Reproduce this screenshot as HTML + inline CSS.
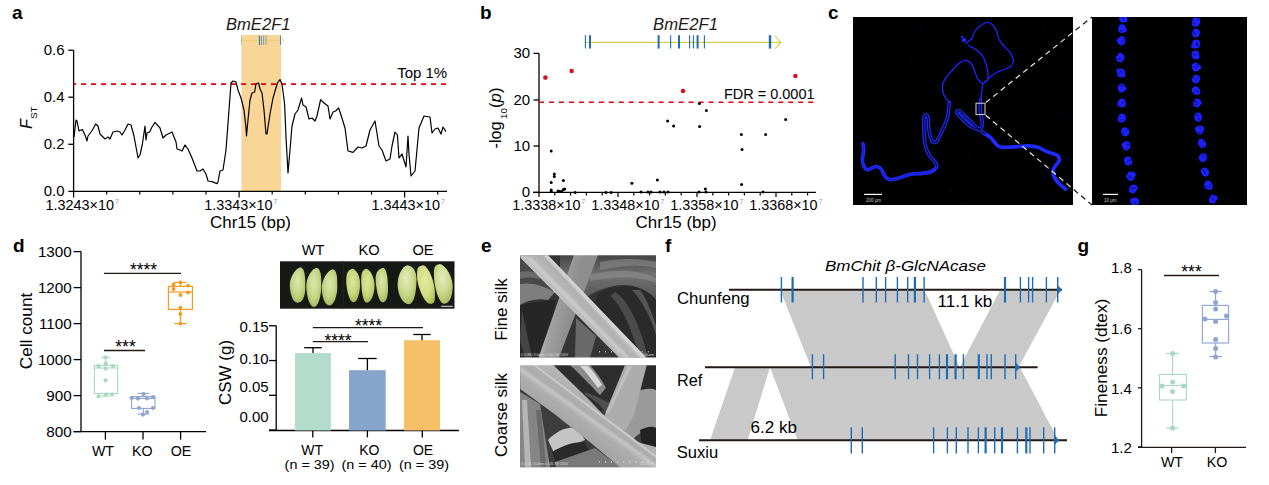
<!DOCTYPE html>
<html><head><meta charset="utf-8"><style>
html,body{margin:0;padding:0;background:#fff;}
svg{display:block;}
text{font-family:"Liberation Sans", sans-serif;}
</style></head><body>
<svg width="1269" height="485" viewBox="0 0 1269 485">
<rect width="1269" height="485" fill="#fff"/>
<text x="12" y="19" font-size="19" text-anchor="start" font-weight="bold">a</text>
<rect x="241.4" y="35" width="39.6" height="156.4" fill="#f9d597"/>
<line x1="241.4" y1="40.4" x2="281.5" y2="40.4" stroke="#e2d060" stroke-width="0.7"/>
<polyline points="282,37.5 283.5,40.4 282,43.3" fill="none" stroke="#d8cc40" stroke-width="0.7"/>
<line x1="241.5" y1="35.5" x2="241.5" y2="45" stroke="#a0b8b8" stroke-width="0.8"/>
<line x1="259.4" y1="35.5" x2="259.4" y2="45" stroke="#2a78b8" stroke-width="1.0"/>
<line x1="261.4" y1="35.5" x2="261.4" y2="45" stroke="#4a88b8" stroke-width="0.8"/>
<line x1="263.6" y1="35.5" x2="263.6" y2="45" stroke="#5a90b8" stroke-width="0.8"/>
<line x1="266" y1="35.5" x2="266" y2="45" stroke="#aab8a8" stroke-width="1.6"/>
<line x1="280.5" y1="35.5" x2="280.5" y2="45" stroke="#4a88b8" stroke-width="1"/>
<text x="226" y="30" font-size="16.7" text-anchor="start" font-style="italic" fill="#231815" textLength="64.5" lengthAdjust="spacingAndGlyphs">BmE2F1</text>
<line x1="73.6" y1="50.2" x2="73.6" y2="191.4" stroke="#000" stroke-width="1.3"/>
<line x1="73" y1="191.4" x2="447" y2="191.4" stroke="#000" stroke-width="1.3"/>
<line x1="68.3" y1="50.2" x2="73.6" y2="50.2" stroke="#000" stroke-width="1.3"/>
<text x="64.6" y="55.2" font-size="15" text-anchor="end">0.6</text>
<line x1="68.3" y1="97.2" x2="73.6" y2="97.2" stroke="#000" stroke-width="1.3"/>
<text x="64.6" y="102.2" font-size="15" text-anchor="end">0.4</text>
<line x1="68.3" y1="144.3" x2="73.6" y2="144.3" stroke="#000" stroke-width="1.3"/>
<text x="64.6" y="149.3" font-size="15" text-anchor="end">0.2</text>
<line x1="68.3" y1="191.4" x2="73.6" y2="191.4" stroke="#000" stroke-width="1.3"/>
<text x="64.6" y="196.4" font-size="15" text-anchor="end">0.0</text>
<line x1="73.6" y1="191.4" x2="73.6" y2="197.4" stroke="#000" stroke-width="1.2"/>
<line x1="106.69999999999999" y1="191.4" x2="106.69999999999999" y2="194.6" stroke="#000" stroke-width="1.2"/>
<line x1="139.8" y1="191.4" x2="139.8" y2="194.6" stroke="#000" stroke-width="1.2"/>
<line x1="172.9" y1="191.4" x2="172.9" y2="194.6" stroke="#000" stroke-width="1.2"/>
<line x1="206.0" y1="191.4" x2="206.0" y2="194.6" stroke="#000" stroke-width="1.2"/>
<line x1="239.1" y1="191.4" x2="239.1" y2="197.4" stroke="#000" stroke-width="1.2"/>
<line x1="272.20000000000005" y1="191.4" x2="272.20000000000005" y2="194.6" stroke="#000" stroke-width="1.2"/>
<line x1="305.3" y1="191.4" x2="305.3" y2="194.6" stroke="#000" stroke-width="1.2"/>
<line x1="338.4" y1="191.4" x2="338.4" y2="194.6" stroke="#000" stroke-width="1.2"/>
<line x1="371.5" y1="191.4" x2="371.5" y2="194.6" stroke="#000" stroke-width="1.2"/>
<line x1="404.6" y1="191.4" x2="404.6" y2="197.4" stroke="#000" stroke-width="1.2"/>
<line x1="437.70000000000005" y1="191.4" x2="437.70000000000005" y2="194.6" stroke="#000" stroke-width="1.2"/>
<text x="45.6" y="210" font-size="15" textLength="68.4" lengthAdjust="spacingAndGlyphs">1.3243×10</text>
<text x="115.0" y="203.5" font-size="7" fill="#999">7</text>
<text x="204.2" y="210" font-size="15" textLength="68.4" lengthAdjust="spacingAndGlyphs">1.3343×10</text>
<text x="273.6" y="203.5" font-size="7" fill="#999">7</text>
<text x="371.59999999999997" y="210" font-size="15" textLength="68.4" lengthAdjust="spacingAndGlyphs">1.3443×10</text>
<text x="441.0" y="203.5" font-size="7" fill="#999">7</text>
<text x="210" y="227.6" font-size="17.2" text-anchor="start" textLength="81" lengthAdjust="spacingAndGlyphs">Chr15 (bp)</text>
<g transform="translate(31.6,129) rotate(-90)"><text x="0" y="0" font-size="16.5" font-style="italic">F</text><text x="9.9" y="5.6" font-size="9.9">ST</text></g>
<line x1="73.6" y1="84.1" x2="448.6" y2="84.1" stroke="#e60012" stroke-width="1.6" stroke-dasharray="5 5" stroke-dashoffset="2.6"/>
<text x="397.2" y="78" font-size="14.8" text-anchor="start" textLength="50" lengthAdjust="spacingAndGlyphs">Top 1%</text>
<polyline fill="none" stroke="#000" stroke-width="1.2" stroke-linejoin="round" points="74,137 76,120 77,121 79,131 81,130 82.4,129.6 85,135 87,141 88,136 91,132 93,129 95.6,124 98,126 100,134 102,136 105,139 108,137 110,139 113,132 117,131 120,132 122,135 125,130 128,124 131,125 134,136 138,158 140,155 142.4,144 145,126 146,140 147,133 149.6,132 152,127 155,122.4 160,128 163,138 166,135 172,132 176,142 177,149 180,150 182,151 185,145 188,149 192,158 197,171 200,171 203,169 206,174 208,181 212,181.6 217,183.6 218,182 220,171 223,170 226,150 229,110 231,83 233,81 236,82 238,90 241,98 244,110 246,128 246.5,136 248,120 250,100 252,93 254.6,92 256,84 258.6,83 260,89 262,93 264,110 266,134 267,134 270,114 273,98 277.4,83 280,79.6 282,84 284.6,104 286,137 288,173 290,150 292,126 295,114 298,110 301.6,98 303,105 306,107 309,119 312,118 315,121 317,116 320.6,99.6 324,103 328,106 330,119 333,112 335.6,111 338.6,108 341,115 345,128 348,151 353,152.4 358,147 362,148 366,146 370,130 375,121 379,146 382,150 386,161 390,159 392,146 395,132 397.4,135 399,158 402,154 406,167 408,136 409,154 411,176 415,171 419,128 424,116 430,117 432,133 435,129 438,128 441,134 443,127 446,131.6"/>
<text x="480" y="19" font-size="19" text-anchor="start" font-weight="bold">b</text>
<text x="653" y="30" font-size="16.7" text-anchor="start" font-style="italic" fill="#231815" textLength="65" lengthAdjust="spacingAndGlyphs">BmE2F1</text>
<line x1="585" y1="42.4" x2="780.5" y2="42.4" stroke="#dccb4f" stroke-width="1.2"/>
<polyline points="775,36.2 781,42.4 775,48.6" fill="none" stroke="#dccb4f" stroke-width="1.1"/>
<line x1="585.4" y1="35.2" x2="585.4" y2="48.6" stroke="#1e6cb4" stroke-width="1.1"/>
<line x1="590" y1="35.2" x2="590" y2="48.6" stroke="#1e6cb4" stroke-width="2"/>
<line x1="658.6" y1="35.2" x2="658.6" y2="48.6" stroke="#1e6cb4" stroke-width="2"/>
<line x1="670.6" y1="35.2" x2="670.6" y2="48.6" stroke="#1e6cb4" stroke-width="1.1"/>
<line x1="679" y1="35.2" x2="679" y2="48.6" stroke="#1e6cb4" stroke-width="2"/>
<line x1="689.6" y1="35.2" x2="689.6" y2="48.6" stroke="#1e6cb4" stroke-width="1.1"/>
<line x1="693.4" y1="35.2" x2="693.4" y2="48.6" stroke="#1e6cb4" stroke-width="1.1"/>
<line x1="697.6" y1="35.2" x2="697.6" y2="48.6" stroke="#1e6cb4" stroke-width="2"/>
<line x1="704.4" y1="35.2" x2="704.4" y2="48.6" stroke="#1e6cb4" stroke-width="1.1"/>
<line x1="770" y1="35.2" x2="770" y2="48.6" stroke="#1e6cb4" stroke-width="2.4"/>
<line x1="539" y1="53.4" x2="539" y2="192.4" stroke="#000" stroke-width="1.3"/>
<line x1="533" y1="192.4" x2="816" y2="192.4" stroke="#000" stroke-width="1.3"/>
<line x1="533.5" y1="53.4" x2="539" y2="53.4" stroke="#000" stroke-width="1.3"/>
<text x="530.2" y="58.4" font-size="15" text-anchor="end">30</text>
<line x1="533.5" y1="100" x2="539" y2="100" stroke="#000" stroke-width="1.3"/>
<text x="530.2" y="105.0" font-size="15" text-anchor="end">20</text>
<line x1="533.5" y1="146" x2="539" y2="146" stroke="#000" stroke-width="1.3"/>
<text x="530.2" y="151.0" font-size="15" text-anchor="end">10</text>
<line x1="533.5" y1="192.4" x2="539" y2="192.4" stroke="#000" stroke-width="1.3"/>
<text x="530.2" y="197.4" font-size="15" text-anchor="end">0</text>
<line x1="539.0" y1="192.4" x2="539.0" y2="196.9" stroke="#000" stroke-width="1.2"/>
<line x1="554.8" y1="192.4" x2="554.8" y2="195.4" stroke="#000" stroke-width="1.2"/>
<line x1="570.6" y1="192.4" x2="570.6" y2="195.4" stroke="#000" stroke-width="1.2"/>
<line x1="586.4" y1="192.4" x2="586.4" y2="195.4" stroke="#000" stroke-width="1.2"/>
<line x1="602.2" y1="192.4" x2="602.2" y2="195.4" stroke="#000" stroke-width="1.2"/>
<line x1="618.0" y1="192.4" x2="618.0" y2="196.9" stroke="#000" stroke-width="1.2"/>
<line x1="633.8" y1="192.4" x2="633.8" y2="195.4" stroke="#000" stroke-width="1.2"/>
<line x1="649.6" y1="192.4" x2="649.6" y2="195.4" stroke="#000" stroke-width="1.2"/>
<line x1="665.4" y1="192.4" x2="665.4" y2="195.4" stroke="#000" stroke-width="1.2"/>
<line x1="681.2" y1="192.4" x2="681.2" y2="195.4" stroke="#000" stroke-width="1.2"/>
<line x1="697.0" y1="192.4" x2="697.0" y2="196.9" stroke="#000" stroke-width="1.2"/>
<line x1="712.8" y1="192.4" x2="712.8" y2="195.4" stroke="#000" stroke-width="1.2"/>
<line x1="728.6" y1="192.4" x2="728.6" y2="195.4" stroke="#000" stroke-width="1.2"/>
<line x1="744.4" y1="192.4" x2="744.4" y2="195.4" stroke="#000" stroke-width="1.2"/>
<line x1="760.2" y1="192.4" x2="760.2" y2="195.4" stroke="#000" stroke-width="1.2"/>
<line x1="776.0" y1="192.4" x2="776.0" y2="196.9" stroke="#000" stroke-width="1.2"/>
<line x1="791.8" y1="192.4" x2="791.8" y2="195.4" stroke="#000" stroke-width="1.2"/>
<line x1="807.6" y1="192.4" x2="807.6" y2="195.4" stroke="#000" stroke-width="1.2"/>
<text x="512.2" y="210" font-size="15" textLength="68.4" lengthAdjust="spacingAndGlyphs">1.3338×10</text>
<text x="581.6" y="203.5" font-size="7" fill="#999">7</text>
<text x="591.2" y="210" font-size="15" textLength="68.4" lengthAdjust="spacingAndGlyphs">1.3348×10</text>
<text x="660.6" y="203.5" font-size="7" fill="#999">7</text>
<text x="670.2" y="210" font-size="15" textLength="68.4" lengthAdjust="spacingAndGlyphs">1.3358×10</text>
<text x="739.6" y="203.5" font-size="7" fill="#999">7</text>
<text x="749.2" y="210" font-size="15" textLength="68.4" lengthAdjust="spacingAndGlyphs">1.3368×10</text>
<text x="818.6" y="203.5" font-size="7" fill="#999">7</text>
<text x="635.6" y="227.6" font-size="17.2" text-anchor="start" textLength="81" lengthAdjust="spacingAndGlyphs">Chr15 (bp)</text>
<g transform="translate(501.4,148.5) rotate(-90)"><text x="0" y="0" font-size="16.3">-log</text><text x="29.6" y="5.6" font-size="9.8">10</text><text x="40.6" y="0" font-size="16.3">(</text><text x="46.2" y="0" font-size="16.3" font-style="italic">p</text><text x="55.6" y="0" font-size="16.3">)</text></g>
<line x1="539" y1="102.3" x2="815" y2="102.3" stroke="#e60012" stroke-width="1.6" stroke-dasharray="5 4.97"/>
<text x="724" y="99" font-size="14.8" text-anchor="start" textLength="90.5" lengthAdjust="spacingAndGlyphs">FDR = 0.0001</text>
<circle cx="551.2" cy="150.9" r="1.5" fill="#000"/>
<circle cx="554.3" cy="174.1" r="1.5" fill="#000"/>
<circle cx="554.3" cy="176.4" r="1.5" fill="#000"/>
<circle cx="551.2" cy="182.4" r="1.5" fill="#000"/>
<circle cx="563.4" cy="180.6" r="1.5" fill="#000"/>
<circle cx="551.2" cy="190.1" r="1.5" fill="#000"/>
<circle cx="551.2" cy="191.5" r="1.5" fill="#000"/>
<circle cx="558.1" cy="191" r="1.5" fill="#000"/>
<circle cx="559.8" cy="191.5" r="1.5" fill="#000"/>
<circle cx="561.7" cy="191.5" r="1.5" fill="#000"/>
<circle cx="563.4" cy="189.5" r="1.5" fill="#000"/>
<circle cx="564.7" cy="189" r="1.5" fill="#000"/>
<circle cx="575.1" cy="192.4" r="1.5" fill="#000"/>
<circle cx="606" cy="192.4" r="1.5" fill="#000"/>
<circle cx="611.2" cy="192.4" r="1.5" fill="#000"/>
<circle cx="631.9" cy="183.2" r="1.5" fill="#000"/>
<circle cx="641" cy="192" r="1.5" fill="#000"/>
<circle cx="648" cy="192" r="1.5" fill="#000"/>
<circle cx="651" cy="192" r="1.5" fill="#000"/>
<circle cx="657.4" cy="180" r="1.5" fill="#000"/>
<circle cx="660" cy="192" r="1.5" fill="#000"/>
<circle cx="664" cy="192" r="1.5" fill="#000"/>
<circle cx="668" cy="192" r="1.5" fill="#000"/>
<circle cx="667.6" cy="121" r="1.5" fill="#000"/>
<circle cx="673.6" cy="126" r="1.5" fill="#000"/>
<circle cx="699.4" cy="103.4" r="1.5" fill="#000"/>
<circle cx="706.4" cy="110.6" r="1.5" fill="#000"/>
<circle cx="699.6" cy="126.4" r="1.5" fill="#000"/>
<circle cx="699" cy="192" r="1.5" fill="#000"/>
<circle cx="705.4" cy="189" r="1.5" fill="#000"/>
<circle cx="706" cy="192" r="1.5" fill="#000"/>
<circle cx="741.4" cy="134.4" r="1.5" fill="#000"/>
<circle cx="742" cy="149.4" r="1.5" fill="#000"/>
<circle cx="741.6" cy="184.6" r="1.5" fill="#000"/>
<circle cx="765.6" cy="134.4" r="1.5" fill="#000"/>
<circle cx="763" cy="192" r="1.5" fill="#000"/>
<circle cx="785.6" cy="119.6" r="1.5" fill="#000"/>
<circle cx="545.4" cy="77.6" r="2.3" fill="#d7131d"/>
<circle cx="571.6" cy="71" r="2.3" fill="#d7131d"/>
<circle cx="683" cy="91" r="2.3" fill="#d7131d"/>
<circle cx="795.4" cy="76" r="2.3" fill="#d7131d"/>
<text x="828" y="19" font-size="19" text-anchor="start" font-weight="bold">c</text>
<rect x="853" y="17" width="220" height="188" fill="#000"/>
<rect x="1092" y="17" width="155" height="188" fill="#000"/>
<rect x="906.4" y="119.1" width="0.8" height="0.8" fill="#1010a0"/>
<rect x="934.9" y="130.1" width="0.8" height="0.8" fill="#1010a0"/>
<rect x="990.2" y="31.1" width="0.8" height="0.8" fill="#1010a0"/>
<rect x="857.8" y="173.1" width="0.8" height="0.8" fill="#1010a0"/>
<rect x="911.0" y="62.1" width="0.8" height="0.8" fill="#1010a0"/>
<rect x="1070.1" y="105.5" width="0.8" height="0.8" fill="#1010a0"/>
<rect x="1035.7" y="106.6" width="0.8" height="0.8" fill="#1010a0"/>
<rect x="993.0" y="46.7" width="0.8" height="0.8" fill="#1010a0"/>
<rect x="992.1" y="178.7" width="0.8" height="0.8" fill="#1010a0"/>
<rect x="968.0" y="155.4" width="0.8" height="0.8" fill="#1010a0"/>
<rect x="1000.0" y="30.8" width="0.8" height="0.8" fill="#1010a0"/>
<rect x="1018.8" y="127.8" width="0.8" height="0.8" fill="#1010a0"/>
<rect x="920.1" y="24.7" width="0.8" height="0.8" fill="#1010a0"/>
<rect x="1042.0" y="106.0" width="0.8" height="0.8" fill="#1010a0"/>
<rect x="1010.3" y="180.7" width="0.8" height="0.8" fill="#1010a0"/>
<rect x="1009.3" y="188.5" width="0.8" height="0.8" fill="#1010a0"/>
<rect x="940.3" y="166.4" width="0.8" height="0.8" fill="#1010a0"/>
<rect x="951.0" y="191.1" width="0.8" height="0.8" fill="#1010a0"/>
<rect x="1044.8" y="36.9" width="0.8" height="0.8" fill="#1010a0"/>
<rect x="884.4" y="58.9" width="0.8" height="0.8" fill="#1010a0"/>
<rect x="1063.5" y="99.3" width="0.8" height="0.8" fill="#1010a0"/>
<rect x="990.4" y="74.4" width="0.8" height="0.8" fill="#1010a0"/>
<rect x="964.6" y="90.0" width="0.8" height="0.8" fill="#1010a0"/>
<rect x="930.8" y="126.7" width="0.8" height="0.8" fill="#1010a0"/>
<rect x="981.2" y="185.4" width="0.8" height="0.8" fill="#1010a0"/>
<rect x="1002.3" y="189.9" width="0.8" height="0.8" fill="#1010a0"/>
<rect x="1040.0" y="201.3" width="0.8" height="0.8" fill="#1010a0"/>
<rect x="1000.0" y="49.0" width="0.8" height="0.8" fill="#1010a0"/>
<rect x="1040.9" y="196.5" width="0.8" height="0.8" fill="#1010a0"/>
<rect x="1050.4" y="123.7" width="0.8" height="0.8" fill="#1010a0"/>
<rect x="1009.2" y="57.8" width="0.8" height="0.8" fill="#1010a0"/>
<rect x="1034.6" y="124.5" width="0.8" height="0.8" fill="#1010a0"/>
<rect x="916.6" y="30.7" width="0.8" height="0.8" fill="#1010a0"/>
<rect x="1039.5" y="201.1" width="0.8" height="0.8" fill="#1010a0"/>
<rect x="874.1" y="166.3" width="0.8" height="0.8" fill="#1010a0"/>
<rect x="943.7" y="46.7" width="0.8" height="0.8" fill="#1010a0"/>
<rect x="918.5" y="160.5" width="0.8" height="0.8" fill="#1010a0"/>
<rect x="1043.5" y="27.1" width="0.8" height="0.8" fill="#1010a0"/>
<rect x="987.7" y="27.3" width="0.8" height="0.8" fill="#1010a0"/>
<rect x="1010.2" y="79.9" width="0.8" height="0.8" fill="#1010a0"/>
<rect x="1045.3" y="199.4" width="0.8" height="0.8" fill="#1010a0"/>
<rect x="964.2" y="202.7" width="0.8" height="0.8" fill="#1010a0"/>
<rect x="921.9" y="33.2" width="0.8" height="0.8" fill="#1010a0"/>
<rect x="984.5" y="24.8" width="0.8" height="0.8" fill="#1010a0"/>
<rect x="897.6" y="94.1" width="0.8" height="0.8" fill="#1010a0"/>
<rect x="986.9" y="47.7" width="0.8" height="0.8" fill="#1010a0"/>
<rect x="864.2" y="178.7" width="0.8" height="0.8" fill="#1010a0"/>
<rect x="922.8" y="195.4" width="0.8" height="0.8" fill="#1010a0"/>
<rect x="1048.7" y="88.5" width="0.8" height="0.8" fill="#1010a0"/>
<rect x="954.4" y="114.7" width="0.8" height="0.8" fill="#1010a0"/>
<rect x="994.1" y="128.6" width="0.8" height="0.8" fill="#1010a0"/>
<rect x="975.8" y="133.1" width="0.8" height="0.8" fill="#1010a0"/>
<rect x="1058.2" y="112.3" width="0.8" height="0.8" fill="#1010a0"/>
<rect x="948.1" y="151.5" width="0.8" height="0.8" fill="#1010a0"/>
<rect x="906.3" y="74.4" width="0.8" height="0.8" fill="#1010a0"/>
<rect x="1066.2" y="114.9" width="0.8" height="0.8" fill="#1010a0"/>
<rect x="973.5" y="21.1" width="0.8" height="0.8" fill="#1010a0"/>
<rect x="944.7" y="125.7" width="0.8" height="0.8" fill="#1010a0"/>
<rect x="859.3" y="132.3" width="0.8" height="0.8" fill="#1010a0"/>
<rect x="991.6" y="30.1" width="0.8" height="0.8" fill="#1010a0"/>
<path d="M965.5,43.9 C966.6,42.9 970.5,40.1 972,38 C973.5,35.9 973.4,33.4 974.6,31.5 C975.9,29.6 977.4,28.0 979.5,26.5 C981.6,25.0 984.8,22.6 987,22.4 C989.2,22.1 991.1,23.5 992.7,25 C994.3,26.5 995.7,29.0 996.8,31.5 C997.9,34.0 998.0,37.3 999.3,39.8 C1000.5,42.3 1002.4,44.1 1004.3,46.4 C1006.2,48.7 1009.4,51.3 1010.9,53.8 C1012.4,56.3 1013.3,59.1 1013.3,61.2 C1013.3,63.3 1012.4,64.8 1010.9,66.2 C1009.4,67.6 1006.8,68.4 1004.3,69.5 C1001.8,70.6 998.5,71.4 996,72.8 C993.5,74.2 991.1,76.3 989.4,77.7 C987.7,79.1 987.1,79.9 986,81 C984.9,82.1 983.5,82.6 982.8,84.3 C982.1,86.0 982.3,88.7 982,91 C981.7,93.3 981.2,95.8 981,98 C980.8,100.2 980.6,103.0 980.5,104" fill="none" stroke="#1c24ff" stroke-width="1.3"/>
<path d="M968,45.5 C969.4,46.2 973.7,47.9 976.2,49.7 C978.7,51.5 981.2,53.8 982.8,56.3 C984.4,58.8 985.2,61.8 986,64.5 C986.8,67.2 987.5,70.3 987.8,72.8 C988.1,75.3 988.3,77.8 987.8,79.4 C987.2,81.1 985.0,82.2 984.5,82.7" fill="none" stroke="#1c24ff" stroke-width="1.3"/>
<path d="M982.8,84 C982.0,83.2 979.3,81.6 977.9,79.4 C976.5,77.2 975.6,73.6 974.6,71.1 C973.6,68.6 973.4,66.3 972,64.5 C970.6,62.7 968.3,60.7 966.3,60.4 C964.2,60.1 962.2,61.1 959.7,62.9 C957.2,64.7 954.0,68.3 951.5,71.1 C949.0,73.8 946.4,76.9 944.9,79.4 C943.4,81.9 942.5,83.4 942.4,86 C942.2,88.6 942.8,92.2 944,95 C945.2,97.8 948.5,101.3 949.4,102.6" fill="none" stroke="#1c24ff" stroke-width="1.3"/>
<circle cx="964" cy="40" r="2.2" fill="#1c24ff"/><circle cx="962" cy="37" r="1.2" fill="#1c24ff"/>
<path d="M949.4,102.6 C949.0,105.2 948.6,113.1 947.3,118 C946.0,122.9 943.5,128.0 941.6,132 C939.7,136.0 937.6,140.5 936,141.9 C934.4,143.3 933.0,142.4 931.8,140.5 C930.6,138.6 929.6,134.2 929,130.7 C928.4,127.2 928.6,122.1 928.3,119.5 C927.9,116.9 927.6,115.5 926.9,115.2 C926.2,115.0 924.5,115.2 924,118 C923.5,120.8 923.8,127.3 924,132 C924.2,136.7 924.5,142.0 925.5,146 C926.5,150.0 928.1,153.2 929.7,155.9 C931.3,158.6 934.1,160.4 935.3,162.2 C936.4,164.0 937.2,165.0 936.6,166.6 C936.0,168.2 934.1,170.4 931.6,171.5 C929.1,172.6 925.4,172.9 921.7,173.4 C918.0,173.9 913.3,173.8 909.4,174.6 C905.5,175.4 901.6,177.5 898.3,178.3 C895.0,179.1 891.9,180.0 889.6,179.6 C887.3,179.2 886.0,177.5 884.7,175.8 C883.4,174.2 882.9,171.2 881.6,169.7 C880.4,168.2 878.8,166.9 877.2,166.6 C875.7,166.3 873.9,167.3 872.3,167.8 C870.7,168.3 868.8,170.0 867.4,169.7 C866.0,169.4 864.5,167.7 863.7,166 C862.9,164.3 862.4,162.5 862.4,159.8 C862.4,157.1 863.6,152.6 863.7,149.9 C863.8,147.2 863.1,144.7 863,143.7" fill="none" stroke="#1f2aff" stroke-width="3.6" stroke-linecap="round"/>
<path d="M980.5,100 C980.5,101.7 979.9,106.0 980.2,110 C980.5,114.0 982.4,120.5 982.3,123.7 C982.2,126.9 981.4,128.8 979.5,129.3 C977.6,129.8 973.8,128.1 971,126.5 C968.2,124.9 965.0,121.8 962.7,119.5 C960.4,117.2 957.5,113.8 957,112.4 C956.5,111.0 958.5,110.3 959.9,111 C961.3,111.7 963.2,114.3 965.5,116.6 C967.8,118.9 971.3,122.7 973.9,125 C976.5,127.3 979.0,129.2 980.9,130.7 C982.8,132.2 983.4,132.8 985,134 C986.6,135.2 988.3,135.6 990.7,137.7 C993.1,139.8 995.5,145.1 999.4,146.6 C1003.3,148.1 1009.1,147.0 1013.9,146.9 C1018.7,146.8 1024.2,145.8 1028.3,145.9 C1032.4,146.0 1035.3,146.4 1038.4,147.4 C1041.5,148.4 1043.9,150.4 1047,151.7 C1050.1,153.0 1055.2,153.9 1057.2,155.3 C1059.2,156.8 1059.5,158.7 1059.3,160.4 C1059.0,162.1 1056.8,163.6 1055.7,165.4 C1054.6,167.2 1052.8,168.8 1052.8,171.2 C1052.8,173.6 1054.2,177.4 1055.7,179.8 C1057.2,182.2 1059.8,184.0 1061.5,185.6 C1063.2,187.2 1065.1,188.6 1065.8,189.2" fill="none" stroke="#1f2aff" stroke-width="3.6" stroke-linecap="round"/>
<path d="M949.4,102.6 C949.0,105.2 948.6,113.1 947.3,118 C946.0,122.9 943.5,128.0 941.6,132 C939.7,136.0 937.6,140.5 936,141.9 C934.4,143.3 933.0,142.4 931.8,140.5 C930.6,138.6 929.6,134.2 929,130.7 C928.4,127.2 928.6,122.1 928.3,119.5 C927.9,116.9 927.6,115.5 926.9,115.2 C926.2,115.0 924.5,115.2 924,118 C923.5,120.8 923.8,127.3 924,132 C924.2,136.7 924.5,142.0 925.5,146 C926.5,150.0 928.1,153.2 929.7,155.9 C931.3,158.6 934.1,160.4 935.3,162.2 C936.4,164.0 936.4,165.9 936.6,166.6" fill="none" stroke="#000010" stroke-width="1.1"/>
<path d="M980.5,100 C980.5,101.7 979.9,106.0 980.2,110 C980.5,114.0 982.4,120.5 982.3,123.7 C982.2,126.9 981.4,128.8 979.5,129.3 C977.6,129.8 973.8,128.1 971,126.5 C968.2,124.9 965.0,121.8 962.7,119.5 C960.4,117.2 957.5,113.8 957,112.4 C956.5,111.0 958.5,110.3 959.9,111 C961.3,111.7 963.2,114.3 965.5,116.6 C967.8,118.9 971.3,122.7 973.9,125 C976.5,127.3 979.0,129.2 980.9,130.7 C982.8,132.2 984.3,133.4 985,134" fill="none" stroke="#000010" stroke-width="1.1"/>
<path d="M936.6,166.6 C935.8,167.4 934.1,170.4 931.6,171.5 C929.1,172.6 925.4,172.9 921.7,173.4 C918.0,173.9 913.3,173.8 909.4,174.6 C905.5,175.4 901.6,177.5 898.3,178.3 C895.0,179.1 891.9,180.0 889.6,179.6 C887.3,179.2 886.0,177.5 884.7,175.8 C883.4,174.2 882.9,171.2 881.6,169.7 C880.4,168.2 878.8,166.9 877.2,166.6 C875.7,166.3 873.9,167.3 872.3,167.8 C870.7,168.3 868.8,170.0 867.4,169.7 C866.0,169.4 864.5,167.7 863.7,166 C862.9,164.3 862.4,162.5 862.4,159.8 C862.4,157.1 863.6,152.6 863.7,149.9 C863.8,147.2 863.1,144.7 863,143.7" fill="none" stroke="#0a10a0" stroke-width="0.6"/>
<rect x="976" y="103.2" width="9" height="11.4" fill="none" stroke="#e8e8e8" stroke-width="0.9"/>
<defs><clipPath id="cin"><rect x="853" y="17" width="220" height="188"/></clipPath><clipPath id="cgap"><rect x="1073" y="10" width="19" height="200"/></clipPath></defs>
<g clip-path="url(#cin)">
<line x1="985" y1="103.2" x2="1092" y2="17" stroke="#e8e8e8" stroke-width="1.2" stroke-dasharray="5.5 4.1" stroke-dashoffset="-1"/>
<line x1="985" y1="114.6" x2="1092" y2="205" stroke="#e8e8e8" stroke-width="1.2" stroke-dasharray="5.5 4.1" stroke-dashoffset="-1"/>
</g><g clip-path="url(#cgap)">
<line x1="985" y1="103.2" x2="1092" y2="17" stroke="#231815" stroke-width="1.3" stroke-dasharray="5.5 4.1" stroke-dashoffset="-1"/>
<line x1="985" y1="114.6" x2="1092" y2="205" stroke="#231815" stroke-width="1.3" stroke-dasharray="5.5 4.1" stroke-dashoffset="-1"/>
</g>
<line x1="864" y1="194.4" x2="882" y2="194.4" stroke="#fff" stroke-width="1.2"/>
<text x="866" y="202" font-size="4.5" fill="#ccc">200 μm</text>
<line x1="1103" y1="194.4" x2="1118" y2="194.4" stroke="#fff" stroke-width="1.2"/>
<text x="1104" y="202" font-size="4.5" fill="#ccc">10 μm</text>
<ellipse cx="1123" cy="18" rx="3.8" ry="4.4" fill="#1c22ff" transform="rotate(-2 1123 18)"/>
<ellipse cx="1124.8" cy="19.9" rx="2.6" ry="2.3" fill="#1c22ff"/>
<ellipse cx="1124.7" cy="16.4" rx="2.6" ry="2.3" fill="#1c22ff"/>
<ellipse cx="1123.5" cy="16.4" rx="2.2" ry="1.9" fill="#1c22ff"/>
<ellipse cx="1123.2" cy="20.0" rx="2.4" ry="2.4" fill="#1c22ff"/>
<circle cx="1122.5" cy="17.7" r="0.8" fill="#0a0c90"/>
<circle cx="1123.8" cy="18.7" r="0.8" fill="#0a0c90"/>
<circle cx="1120.8" cy="15.4" r="0.9" fill="#0a0c90"/>
<circle cx="1123.5" cy="19.6" r="0.6" fill="#0a0c90"/>
<ellipse cx="1122" cy="28.6" rx="3.8" ry="4.4" fill="#1c22ff" transform="rotate(7 1122 28.6)"/>
<ellipse cx="1123.6" cy="28.7" rx="2.4" ry="2.3" fill="#1c22ff"/>
<ellipse cx="1122.8" cy="28.4" rx="2.1" ry="2.8" fill="#1c22ff"/>
<ellipse cx="1124.4" cy="30.4" rx="2.5" ry="2.1" fill="#1c22ff"/>
<ellipse cx="1120.7" cy="27.5" rx="1.9" ry="2.6" fill="#1c22ff"/>
<circle cx="1121.5" cy="30.5" r="0.7" fill="#0a0c90"/>
<circle cx="1124.3" cy="30.5" r="0.5" fill="#0a0c90"/>
<circle cx="1120.5" cy="30.9" r="0.7" fill="#0a0c90"/>
<circle cx="1124.4" cy="28.0" r="0.5" fill="#0a0c90"/>
<ellipse cx="1121.5" cy="41" rx="3.8" ry="4.4" fill="#1c22ff" transform="rotate(10 1121.5 41)"/>
<ellipse cx="1120.1" cy="41.9" rx="2.1" ry="2.1" fill="#1c22ff"/>
<ellipse cx="1119.2" cy="40.5" rx="2.7" ry="1.9" fill="#1c22ff"/>
<ellipse cx="1122.5" cy="38.5" rx="2.3" ry="2.3" fill="#1c22ff"/>
<ellipse cx="1122.4" cy="39.4" rx="2.3" ry="2.8" fill="#1c22ff"/>
<circle cx="1122.8" cy="40.5" r="0.7" fill="#0a0c90"/>
<circle cx="1121.0" cy="43.7" r="0.5" fill="#0a0c90"/>
<circle cx="1123.3" cy="43.7" r="0.7" fill="#0a0c90"/>
<circle cx="1124.0" cy="38.3" r="0.6" fill="#0a0c90"/>
<ellipse cx="1120.5" cy="58" rx="3.8" ry="4.4" fill="#1c22ff" transform="rotate(24 1120.5 58)"/>
<ellipse cx="1121.0" cy="58.4" rx="1.8" ry="1.9" fill="#1c22ff"/>
<ellipse cx="1120.2" cy="55.4" rx="2.4" ry="2.6" fill="#1c22ff"/>
<ellipse cx="1120.0" cy="55.8" rx="2.0" ry="2.4" fill="#1c22ff"/>
<ellipse cx="1118.2" cy="57.3" rx="2.4" ry="1.9" fill="#1c22ff"/>
<circle cx="1120.9" cy="59.9" r="0.6" fill="#0a0c90"/>
<circle cx="1119.9" cy="58.7" r="0.6" fill="#0a0c90"/>
<circle cx="1119.1" cy="58.6" r="0.8" fill="#0a0c90"/>
<circle cx="1118.8" cy="58.7" r="0.7" fill="#0a0c90"/>
<ellipse cx="1121" cy="73" rx="3.8" ry="4.4" fill="#1c22ff" transform="rotate(13 1121 73)"/>
<ellipse cx="1123.2" cy="75.0" rx="2.4" ry="2.2" fill="#1c22ff"/>
<ellipse cx="1119.1" cy="70.6" rx="2.8" ry="2.0" fill="#1c22ff"/>
<ellipse cx="1122.0" cy="71.7" rx="2.6" ry="2.4" fill="#1c22ff"/>
<ellipse cx="1120.0" cy="71.3" rx="2.5" ry="1.9" fill="#1c22ff"/>
<circle cx="1119.6" cy="73.3" r="0.8" fill="#0a0c90"/>
<circle cx="1121.6" cy="71.8" r="0.9" fill="#0a0c90"/>
<circle cx="1119.5" cy="70.3" r="0.6" fill="#0a0c90"/>
<circle cx="1120.7" cy="70.5" r="0.6" fill="#0a0c90"/>
<ellipse cx="1121.5" cy="88" rx="3.8" ry="4.4" fill="#1c22ff" transform="rotate(-7 1121.5 88)"/>
<ellipse cx="1121.6" cy="90.5" rx="1.9" ry="1.9" fill="#1c22ff"/>
<ellipse cx="1121.3" cy="87.1" rx="2.5" ry="2.3" fill="#1c22ff"/>
<ellipse cx="1123.6" cy="88.5" rx="2.7" ry="2.3" fill="#1c22ff"/>
<ellipse cx="1120.8" cy="87.0" rx="1.8" ry="2.4" fill="#1c22ff"/>
<circle cx="1119.4" cy="85.6" r="0.6" fill="#0a0c90"/>
<circle cx="1119.7" cy="85.6" r="0.7" fill="#0a0c90"/>
<circle cx="1120.8" cy="85.4" r="0.9" fill="#0a0c90"/>
<circle cx="1122.7" cy="85.9" r="0.9" fill="#0a0c90"/>
<ellipse cx="1122" cy="103" rx="3.8" ry="4.4" fill="#1c22ff" transform="rotate(-9 1122 103)"/>
<ellipse cx="1121.3" cy="104.0" rx="2.7" ry="2.7" fill="#1c22ff"/>
<ellipse cx="1121.6" cy="104.5" rx="2.7" ry="2.4" fill="#1c22ff"/>
<ellipse cx="1122.6" cy="102.4" rx="2.4" ry="2.4" fill="#1c22ff"/>
<ellipse cx="1120.0" cy="103.7" rx="2.8" ry="2.7" fill="#1c22ff"/>
<circle cx="1123.1" cy="102.4" r="0.8" fill="#0a0c90"/>
<circle cx="1122.4" cy="102.7" r="0.8" fill="#0a0c90"/>
<circle cx="1119.9" cy="104.4" r="0.5" fill="#0a0c90"/>
<circle cx="1122.5" cy="102.9" r="0.6" fill="#0a0c90"/>
<ellipse cx="1122" cy="118" rx="3.8" ry="4.4" fill="#1c22ff" transform="rotate(14 1122 118)"/>
<ellipse cx="1120.1" cy="119.5" rx="2.5" ry="2.3" fill="#1c22ff"/>
<ellipse cx="1123.9" cy="117.3" rx="1.9" ry="2.4" fill="#1c22ff"/>
<ellipse cx="1122.1" cy="119.3" rx="2.1" ry="2.7" fill="#1c22ff"/>
<ellipse cx="1122.0" cy="116.7" rx="2.2" ry="2.1" fill="#1c22ff"/>
<circle cx="1122.7" cy="119.7" r="0.8" fill="#0a0c90"/>
<circle cx="1120.5" cy="116.4" r="0.6" fill="#0a0c90"/>
<circle cx="1124.1" cy="116.4" r="0.6" fill="#0a0c90"/>
<circle cx="1121.3" cy="120.2" r="0.5" fill="#0a0c90"/>
<ellipse cx="1125" cy="132" rx="3.8" ry="4.4" fill="#1c22ff" transform="rotate(-26 1125 132)"/>
<ellipse cx="1127.2" cy="130.8" rx="2.0" ry="2.3" fill="#1c22ff"/>
<ellipse cx="1123.9" cy="130.5" rx="2.2" ry="2.4" fill="#1c22ff"/>
<ellipse cx="1125.0" cy="131.0" rx="2.6" ry="2.8" fill="#1c22ff"/>
<ellipse cx="1124.8" cy="129.8" rx="1.8" ry="2.7" fill="#1c22ff"/>
<circle cx="1122.7" cy="133.2" r="0.7" fill="#0a0c90"/>
<circle cx="1124.0" cy="133.6" r="0.5" fill="#0a0c90"/>
<circle cx="1123.2" cy="131.7" r="0.5" fill="#0a0c90"/>
<circle cx="1126.6" cy="130.5" r="0.6" fill="#0a0c90"/>
<ellipse cx="1126" cy="146" rx="3.8" ry="4.4" fill="#1c22ff" transform="rotate(-27 1126 146)"/>
<ellipse cx="1128.3" cy="144.0" rx="1.9" ry="2.3" fill="#1c22ff"/>
<ellipse cx="1126.7" cy="145.3" rx="1.9" ry="2.0" fill="#1c22ff"/>
<ellipse cx="1127.6" cy="144.7" rx="2.5" ry="2.6" fill="#1c22ff"/>
<ellipse cx="1126.2" cy="143.6" rx="2.0" ry="2.6" fill="#1c22ff"/>
<circle cx="1126.2" cy="148.5" r="0.7" fill="#0a0c90"/>
<circle cx="1128.5" cy="144.1" r="0.8" fill="#0a0c90"/>
<circle cx="1127.0" cy="144.5" r="0.7" fill="#0a0c90"/>
<circle cx="1128.0" cy="145.4" r="0.7" fill="#0a0c90"/>
<ellipse cx="1128" cy="161" rx="3.8" ry="4.4" fill="#1c22ff" transform="rotate(-18 1128 161)"/>
<ellipse cx="1128.6" cy="163.1" rx="2.2" ry="2.4" fill="#1c22ff"/>
<ellipse cx="1129.8" cy="162.5" rx="2.7" ry="2.3" fill="#1c22ff"/>
<ellipse cx="1128.7" cy="159.5" rx="2.5" ry="2.6" fill="#1c22ff"/>
<ellipse cx="1128.7" cy="162.1" rx="2.0" ry="2.7" fill="#1c22ff"/>
<circle cx="1130.4" cy="163.7" r="0.7" fill="#0a0c90"/>
<circle cx="1129.5" cy="160.0" r="0.9" fill="#0a0c90"/>
<circle cx="1129.8" cy="160.2" r="0.5" fill="#0a0c90"/>
<circle cx="1127.7" cy="161.3" r="0.8" fill="#0a0c90"/>
<ellipse cx="1131" cy="176" rx="3.8" ry="4.4" fill="#1c22ff" transform="rotate(1 1131 176)"/>
<ellipse cx="1133.0" cy="174.5" rx="2.7" ry="2.2" fill="#1c22ff"/>
<ellipse cx="1128.8" cy="176.2" rx="2.5" ry="2.7" fill="#1c22ff"/>
<ellipse cx="1130.9" cy="178.6" rx="2.7" ry="2.3" fill="#1c22ff"/>
<ellipse cx="1131.9" cy="175.7" rx="2.7" ry="2.4" fill="#1c22ff"/>
<circle cx="1131.9" cy="177.4" r="0.7" fill="#0a0c90"/>
<circle cx="1131.3" cy="177.9" r="0.7" fill="#0a0c90"/>
<circle cx="1129.3" cy="176.1" r="0.9" fill="#0a0c90"/>
<circle cx="1129.8" cy="177.0" r="0.9" fill="#0a0c90"/>
<ellipse cx="1133" cy="189" rx="3.8" ry="4.4" fill="#1c22ff" transform="rotate(25 1133 189)"/>
<ellipse cx="1134.9" cy="187.5" rx="2.7" ry="2.8" fill="#1c22ff"/>
<ellipse cx="1133.1" cy="189.4" rx="2.0" ry="2.3" fill="#1c22ff"/>
<ellipse cx="1133.0" cy="189.5" rx="1.8" ry="2.8" fill="#1c22ff"/>
<ellipse cx="1133.1" cy="188.5" rx="2.6" ry="2.4" fill="#1c22ff"/>
<circle cx="1133.0" cy="190.1" r="0.5" fill="#0a0c90"/>
<circle cx="1133.2" cy="188.5" r="0.9" fill="#0a0c90"/>
<circle cx="1135.1" cy="187.7" r="0.7" fill="#0a0c90"/>
<circle cx="1131.1" cy="188.6" r="0.8" fill="#0a0c90"/>
<ellipse cx="1135" cy="202" rx="3.8" ry="4.4" fill="#1c22ff" transform="rotate(27 1135 202)"/>
<ellipse cx="1137.0" cy="202.1" rx="1.9" ry="2.2" fill="#1c22ff"/>
<ellipse cx="1132.7" cy="200.8" rx="2.5" ry="2.8" fill="#1c22ff"/>
<ellipse cx="1132.8" cy="200.2" rx="1.8" ry="2.1" fill="#1c22ff"/>
<ellipse cx="1136.1" cy="200.7" rx="2.3" ry="2.3" fill="#1c22ff"/>
<circle cx="1135.4" cy="204.0" r="0.7" fill="#0a0c90"/>
<circle cx="1136.1" cy="203.1" r="0.9" fill="#0a0c90"/>
<circle cx="1132.6" cy="202.7" r="0.8" fill="#0a0c90"/>
<circle cx="1135.6" cy="202.2" r="0.8" fill="#0a0c90"/>
<ellipse cx="1196" cy="22" rx="3.8" ry="4.4" fill="#1c22ff" transform="rotate(4 1196 22)"/>
<ellipse cx="1196.7" cy="22.2" rx="2.7" ry="2.4" fill="#1c22ff"/>
<ellipse cx="1197.7" cy="20.6" rx="2.5" ry="2.6" fill="#1c22ff"/>
<ellipse cx="1197.9" cy="21.0" rx="2.1" ry="2.7" fill="#1c22ff"/>
<ellipse cx="1194.6" cy="24.6" rx="2.7" ry="1.9" fill="#1c22ff"/>
<circle cx="1194.7" cy="23.3" r="0.6" fill="#0a0c90"/>
<circle cx="1194.0" cy="23.9" r="0.7" fill="#0a0c90"/>
<circle cx="1197.4" cy="19.9" r="0.7" fill="#0a0c90"/>
<circle cx="1196.9" cy="19.3" r="0.6" fill="#0a0c90"/>
<ellipse cx="1196" cy="33" rx="3.8" ry="4.4" fill="#1c22ff" transform="rotate(13 1196 33)"/>
<ellipse cx="1195.3" cy="34.7" rx="2.2" ry="2.5" fill="#1c22ff"/>
<ellipse cx="1196.6" cy="32.2" rx="2.8" ry="2.6" fill="#1c22ff"/>
<ellipse cx="1197.5" cy="32.9" rx="1.8" ry="2.6" fill="#1c22ff"/>
<ellipse cx="1196.5" cy="35.1" rx="2.3" ry="2.0" fill="#1c22ff"/>
<circle cx="1194.1" cy="31.2" r="0.6" fill="#0a0c90"/>
<circle cx="1194.9" cy="34.0" r="0.7" fill="#0a0c90"/>
<circle cx="1194.2" cy="34.0" r="0.5" fill="#0a0c90"/>
<circle cx="1194.0" cy="32.4" r="0.7" fill="#0a0c90"/>
<ellipse cx="1196" cy="44" rx="3.8" ry="4.4" fill="#1c22ff" transform="rotate(-8 1196 44)"/>
<ellipse cx="1195.7" cy="44.5" rx="1.8" ry="2.5" fill="#1c22ff"/>
<ellipse cx="1197.7" cy="42.3" rx="2.3" ry="2.5" fill="#1c22ff"/>
<ellipse cx="1195.5" cy="42.4" rx="2.0" ry="2.3" fill="#1c22ff"/>
<ellipse cx="1193.7" cy="46.0" rx="2.6" ry="2.5" fill="#1c22ff"/>
<circle cx="1197.8" cy="44.7" r="0.7" fill="#0a0c90"/>
<circle cx="1196.5" cy="44.0" r="0.9" fill="#0a0c90"/>
<circle cx="1197.5" cy="42.6" r="0.9" fill="#0a0c90"/>
<circle cx="1197.2" cy="45.6" r="0.8" fill="#0a0c90"/>
<ellipse cx="1195.5" cy="55" rx="3.8" ry="4.4" fill="#1c22ff" transform="rotate(-5 1195.5 55)"/>
<ellipse cx="1193.7" cy="54.1" rx="2.3" ry="2.2" fill="#1c22ff"/>
<ellipse cx="1195.2" cy="53.3" rx="2.0" ry="2.0" fill="#1c22ff"/>
<ellipse cx="1196.9" cy="54.0" rx="1.9" ry="2.7" fill="#1c22ff"/>
<ellipse cx="1197.9" cy="57.1" rx="1.8" ry="2.1" fill="#1c22ff"/>
<circle cx="1197.8" cy="53.9" r="0.6" fill="#0a0c90"/>
<circle cx="1195.0" cy="53.2" r="0.5" fill="#0a0c90"/>
<circle cx="1195.6" cy="55.0" r="0.6" fill="#0a0c90"/>
<circle cx="1193.6" cy="54.4" r="0.7" fill="#0a0c90"/>
<ellipse cx="1196" cy="67" rx="3.8" ry="4.4" fill="#1c22ff" transform="rotate(-23 1196 67)"/>
<ellipse cx="1196.6" cy="68.2" rx="2.1" ry="2.2" fill="#1c22ff"/>
<ellipse cx="1193.8" cy="65.4" rx="2.2" ry="1.9" fill="#1c22ff"/>
<ellipse cx="1194.8" cy="69.1" rx="2.4" ry="2.3" fill="#1c22ff"/>
<ellipse cx="1198.2" cy="67.4" rx="2.8" ry="2.4" fill="#1c22ff"/>
<circle cx="1197.5" cy="64.6" r="0.7" fill="#0a0c90"/>
<circle cx="1197.3" cy="64.5" r="0.9" fill="#0a0c90"/>
<circle cx="1194.3" cy="66.8" r="0.6" fill="#0a0c90"/>
<circle cx="1196.0" cy="67.6" r="0.5" fill="#0a0c90"/>
<ellipse cx="1196" cy="79" rx="3.8" ry="4.4" fill="#1c22ff" transform="rotate(30 1196 79)"/>
<ellipse cx="1196.0" cy="77.9" rx="2.2" ry="2.1" fill="#1c22ff"/>
<ellipse cx="1196.1" cy="78.9" rx="2.1" ry="2.7" fill="#1c22ff"/>
<ellipse cx="1196.8" cy="80.3" rx="1.8" ry="2.6" fill="#1c22ff"/>
<ellipse cx="1196.4" cy="79.7" rx="2.2" ry="2.5" fill="#1c22ff"/>
<circle cx="1193.8" cy="78.0" r="0.7" fill="#0a0c90"/>
<circle cx="1196.4" cy="80.2" r="0.6" fill="#0a0c90"/>
<circle cx="1197.5" cy="77.5" r="0.8" fill="#0a0c90"/>
<circle cx="1194.8" cy="80.4" r="0.5" fill="#0a0c90"/>
<ellipse cx="1196" cy="90.6" rx="3.8" ry="4.4" fill="#1c22ff" transform="rotate(-24 1196 90.6)"/>
<ellipse cx="1198.1" cy="91.8" rx="2.3" ry="2.8" fill="#1c22ff"/>
<ellipse cx="1197.5" cy="91.1" rx="1.9" ry="2.4" fill="#1c22ff"/>
<ellipse cx="1195.8" cy="89.1" rx="1.9" ry="2.3" fill="#1c22ff"/>
<ellipse cx="1194.2" cy="90.3" rx="2.5" ry="2.3" fill="#1c22ff"/>
<circle cx="1194.8" cy="91.1" r="0.7" fill="#0a0c90"/>
<circle cx="1197.4" cy="90.8" r="0.9" fill="#0a0c90"/>
<circle cx="1198.3" cy="91.9" r="0.6" fill="#0a0c90"/>
<circle cx="1194.1" cy="92.8" r="0.8" fill="#0a0c90"/>
<ellipse cx="1197" cy="103" rx="3.8" ry="4.4" fill="#1c22ff" transform="rotate(9 1197 103)"/>
<ellipse cx="1198.7" cy="101.8" rx="2.4" ry="2.5" fill="#1c22ff"/>
<ellipse cx="1198.0" cy="101.4" rx="2.1" ry="2.0" fill="#1c22ff"/>
<ellipse cx="1199.2" cy="103.0" rx="2.5" ry="2.0" fill="#1c22ff"/>
<ellipse cx="1197.9" cy="103.7" rx="1.8" ry="2.1" fill="#1c22ff"/>
<circle cx="1194.6" cy="100.4" r="0.6" fill="#0a0c90"/>
<circle cx="1195.9" cy="104.4" r="0.9" fill="#0a0c90"/>
<circle cx="1195.3" cy="101.5" r="0.9" fill="#0a0c90"/>
<circle cx="1196.9" cy="102.2" r="0.6" fill="#0a0c90"/>
<ellipse cx="1198" cy="117" rx="3.8" ry="4.4" fill="#1c22ff" transform="rotate(1 1198 117)"/>
<ellipse cx="1199.2" cy="118.8" rx="1.9" ry="1.9" fill="#1c22ff"/>
<ellipse cx="1199.5" cy="117.6" rx="2.6" ry="2.0" fill="#1c22ff"/>
<ellipse cx="1197.6" cy="115.7" rx="2.6" ry="2.2" fill="#1c22ff"/>
<ellipse cx="1198.7" cy="119.5" rx="2.1" ry="2.3" fill="#1c22ff"/>
<circle cx="1199.2" cy="119.4" r="0.7" fill="#0a0c90"/>
<circle cx="1197.3" cy="114.7" r="0.9" fill="#0a0c90"/>
<circle cx="1195.9" cy="114.7" r="0.7" fill="#0a0c90"/>
<circle cx="1197.9" cy="118.0" r="0.6" fill="#0a0c90"/>
<ellipse cx="1200" cy="130" rx="3.8" ry="4.4" fill="#1c22ff" transform="rotate(19 1200 130)"/>
<ellipse cx="1197.6" cy="129.0" rx="2.7" ry="2.4" fill="#1c22ff"/>
<ellipse cx="1200.9" cy="130.0" rx="2.6" ry="2.1" fill="#1c22ff"/>
<ellipse cx="1201.8" cy="128.5" rx="2.5" ry="2.1" fill="#1c22ff"/>
<ellipse cx="1202.0" cy="129.1" rx="2.2" ry="2.4" fill="#1c22ff"/>
<circle cx="1202.0" cy="131.0" r="0.6" fill="#0a0c90"/>
<circle cx="1200.2" cy="132.8" r="0.7" fill="#0a0c90"/>
<circle cx="1198.6" cy="132.6" r="0.8" fill="#0a0c90"/>
<circle cx="1200.1" cy="127.7" r="0.8" fill="#0a0c90"/>
<ellipse cx="1202" cy="143.6" rx="3.8" ry="4.4" fill="#1c22ff" transform="rotate(-29 1202 143.6)"/>
<ellipse cx="1201.3" cy="143.1" rx="2.2" ry="2.0" fill="#1c22ff"/>
<ellipse cx="1202.3" cy="145.1" rx="2.3" ry="2.6" fill="#1c22ff"/>
<ellipse cx="1202.3" cy="141.9" rx="2.6" ry="2.7" fill="#1c22ff"/>
<ellipse cx="1201.0" cy="141.1" rx="2.3" ry="2.3" fill="#1c22ff"/>
<circle cx="1202.3" cy="146.2" r="0.8" fill="#0a0c90"/>
<circle cx="1203.5" cy="141.2" r="0.7" fill="#0a0c90"/>
<circle cx="1203.4" cy="141.3" r="0.5" fill="#0a0c90"/>
<circle cx="1203.2" cy="145.8" r="0.5" fill="#0a0c90"/>
<ellipse cx="1203" cy="157.6" rx="3.8" ry="4.4" fill="#1c22ff" transform="rotate(10 1203 157.6)"/>
<ellipse cx="1203.7" cy="155.5" rx="2.6" ry="2.2" fill="#1c22ff"/>
<ellipse cx="1204.0" cy="157.5" rx="2.7" ry="2.1" fill="#1c22ff"/>
<ellipse cx="1202.8" cy="156.8" rx="2.6" ry="2.1" fill="#1c22ff"/>
<ellipse cx="1201.3" cy="157.5" rx="2.6" ry="1.9" fill="#1c22ff"/>
<circle cx="1203.6" cy="155.1" r="0.8" fill="#0a0c90"/>
<circle cx="1205.4" cy="156.8" r="0.5" fill="#0a0c90"/>
<circle cx="1202.4" cy="155.3" r="0.7" fill="#0a0c90"/>
<circle cx="1203.2" cy="154.9" r="0.6" fill="#0a0c90"/>
<ellipse cx="1205" cy="172" rx="3.8" ry="4.4" fill="#1c22ff" transform="rotate(-30 1205 172)"/>
<ellipse cx="1206.5" cy="171.6" rx="2.2" ry="1.9" fill="#1c22ff"/>
<ellipse cx="1206.2" cy="174.6" rx="2.2" ry="2.0" fill="#1c22ff"/>
<ellipse cx="1203.6" cy="171.6" rx="2.1" ry="2.8" fill="#1c22ff"/>
<ellipse cx="1202.9" cy="171.0" rx="1.9" ry="2.4" fill="#1c22ff"/>
<circle cx="1206.4" cy="170.2" r="0.5" fill="#0a0c90"/>
<circle cx="1204.8" cy="172.5" r="0.9" fill="#0a0c90"/>
<circle cx="1202.7" cy="169.8" r="0.6" fill="#0a0c90"/>
<circle cx="1203.6" cy="170.5" r="0.8" fill="#0a0c90"/>
<ellipse cx="1208" cy="185" rx="3.8" ry="4.4" fill="#1c22ff" transform="rotate(8 1208 185)"/>
<ellipse cx="1208.0" cy="184.7" rx="2.7" ry="2.2" fill="#1c22ff"/>
<ellipse cx="1210.0" cy="187.3" rx="2.4" ry="2.7" fill="#1c22ff"/>
<ellipse cx="1208.2" cy="186.8" rx="2.3" ry="2.2" fill="#1c22ff"/>
<ellipse cx="1210.2" cy="185.8" rx="2.6" ry="1.9" fill="#1c22ff"/>
<circle cx="1209.8" cy="184.4" r="0.6" fill="#0a0c90"/>
<circle cx="1206.2" cy="186.7" r="0.9" fill="#0a0c90"/>
<circle cx="1209.5" cy="186.5" r="0.8" fill="#0a0c90"/>
<circle cx="1205.8" cy="187.4" r="0.9" fill="#0a0c90"/>
<ellipse cx="1213" cy="199" rx="3.8" ry="4.4" fill="#1c22ff" transform="rotate(25 1213 199)"/>
<ellipse cx="1212.9" cy="198.3" rx="2.6" ry="2.5" fill="#1c22ff"/>
<ellipse cx="1213.5" cy="197.2" rx="2.0" ry="2.1" fill="#1c22ff"/>
<ellipse cx="1211.8" cy="200.9" rx="2.3" ry="2.4" fill="#1c22ff"/>
<ellipse cx="1215.4" cy="197.8" rx="2.3" ry="2.0" fill="#1c22ff"/>
<circle cx="1214.4" cy="196.2" r="0.8" fill="#0a0c90"/>
<circle cx="1214.7" cy="200.8" r="0.5" fill="#0a0c90"/>
<circle cx="1211.8" cy="200.2" r="0.5" fill="#0a0c90"/>
<circle cx="1212.9" cy="198.8" r="0.9" fill="#0a0c90"/>
<rect x="1092" y="10" width="155" height="7" fill="#fff"/>
<rect x="1092" y="205" width="155" height="10" fill="#fff"/>
<text x="13" y="252.4" font-size="19" text-anchor="start" font-weight="bold">d</text>
<line x1="81" y1="251.6" x2="81" y2="431.6" stroke="#000" stroke-width="1.3"/>
<line x1="73.6" y1="431.6" x2="206" y2="431.6" stroke="#000" stroke-width="1.3"/>
<line x1="73.6" y1="251.6" x2="81" y2="251.6" stroke="#000" stroke-width="1.3"/>
<text x="71.7" y="257.2" font-size="15.2" text-anchor="end">1300</text>
<line x1="73.6" y1="287.6" x2="81" y2="287.6" stroke="#000" stroke-width="1.3"/>
<text x="71.7" y="293.20000000000005" font-size="15.2" text-anchor="end">1200</text>
<line x1="73.6" y1="323.6" x2="81" y2="323.6" stroke="#000" stroke-width="1.3"/>
<text x="71.7" y="329.20000000000005" font-size="15.2" text-anchor="end">1100</text>
<line x1="73.6" y1="359.6" x2="81" y2="359.6" stroke="#000" stroke-width="1.3"/>
<text x="71.7" y="365.20000000000005" font-size="15.2" text-anchor="end">1000</text>
<line x1="73.6" y1="395.6" x2="81" y2="395.6" stroke="#000" stroke-width="1.3"/>
<text x="71.7" y="401.20000000000005" font-size="15.2" text-anchor="end">900</text>
<line x1="73.6" y1="431.6" x2="81" y2="431.6" stroke="#000" stroke-width="1.3"/>
<text x="71.7" y="437.20000000000005" font-size="15.2" text-anchor="end">800</text>
<line x1="105.4" y1="431.6" x2="105.4" y2="439.6" stroke="#000" stroke-width="1.3"/>
<line x1="143" y1="431.6" x2="143" y2="439.6" stroke="#000" stroke-width="1.3"/>
<line x1="180.6" y1="431.6" x2="180.6" y2="439.6" stroke="#000" stroke-width="1.3"/>
<text x="103" y="456" font-size="14.2" text-anchor="middle">WT</text>
<text x="142.2" y="456" font-size="14.2" text-anchor="middle">KO</text>
<text x="181" y="456" font-size="14.2" text-anchor="middle">OE</text>
<g transform="translate(32,331) rotate(-90)"><text x="0" y="0" font-size="17.2" text-anchor="middle">Cell count</text></g>
<line x1="104" y1="273.4" x2="181" y2="273.4" stroke="#231815" stroke-width="1.3"/>
<text x="143.5" y="275.5" font-size="17.5" text-anchor="middle">****</text>
<line x1="104" y1="350.5" x2="145" y2="350.5" stroke="#231815" stroke-width="1.3"/>
<text x="125.5" y="352.5" font-size="17.5" text-anchor="middle">***</text>
<g stroke="#f29a1e" stroke-width="1.2" fill="none">
<rect x="168.4" y="286.4" width="24.0" height="23.0"/>
<line x1="168.4" y1="292" x2="192.4" y2="292"/>
<line x1="180.4" y1="282.4" x2="180.4" y2="286.4"/><line x1="180.4" y1="309.4" x2="180.4" y2="323.6"/>
<line x1="174.20000000000002" y1="282.4" x2="186.6" y2="282.4"/><line x1="174.20000000000002" y1="323.6" x2="186.6" y2="323.6"/>
</g>
<circle cx="180.4" cy="282.4" r="1.9" fill="#f29a1e"/>
<circle cx="173.6" cy="284.4" r="1.9" fill="#f29a1e"/>
<circle cx="188" cy="285.6" r="1.9" fill="#f29a1e"/>
<circle cx="173.6" cy="289" r="1.9" fill="#f29a1e"/>
<circle cx="188" cy="292.4" r="1.9" fill="#f29a1e"/>
<circle cx="180.4" cy="295" r="1.9" fill="#f29a1e"/>
<circle cx="180.4" cy="307.6" r="1.9" fill="#f29a1e"/>
<circle cx="180.4" cy="314" r="1.9" fill="#f29a1e"/>
<circle cx="180.4" cy="323.6" r="1.9" fill="#f29a1e"/>
<g stroke="#a9d9bf" stroke-width="1.1" fill="none">
<rect x="94.4" y="365.4" width="23.19999999999999" height="28.0"/>
<line x1="94.4" y1="368" x2="117.6" y2="368"/>
<line x1="105.6" y1="357.4" x2="105.6" y2="365.4"/><line x1="105.6" y1="393.4" x2="105.6" y2="396"/>
<line x1="101.1" y1="357.4" x2="110.1" y2="357.4"/><line x1="101.1" y1="396" x2="110.1" y2="396"/>
</g>
<circle cx="105.6" cy="357.4" r="2.1" fill="#a9d9bf"/>
<circle cx="105.6" cy="363.6" r="2.1" fill="#a9d9bf"/>
<circle cx="98.6" cy="366" r="2.1" fill="#a9d9bf"/>
<circle cx="113" cy="366" r="2.1" fill="#a9d9bf"/>
<circle cx="105.6" cy="368.6" r="2.1" fill="#a9d9bf"/>
<circle cx="105.6" cy="380.4" r="2.1" fill="#a9d9bf"/>
<circle cx="98.6" cy="396.4" r="2.1" fill="#a9d9bf"/>
<circle cx="106" cy="394.6" r="2.1" fill="#a9d9bf"/>
<circle cx="112" cy="394.6" r="2.1" fill="#a9d9bf"/>
<g stroke="#8ea4d2" stroke-width="1.1" fill="none">
<rect x="131.6" y="396.6" width="23.400000000000006" height="11.799999999999955"/>
<line x1="131.6" y1="398.4" x2="155" y2="398.4"/>
<line x1="143.4" y1="393.4" x2="143.4" y2="396.6"/><line x1="143.4" y1="408.4" x2="143.4" y2="414"/>
<line x1="137.4" y1="393.4" x2="149.4" y2="393.4"/><line x1="137.4" y1="414" x2="149.4" y2="414"/>
</g>
<circle cx="143.6" cy="394" r="2.1" fill="#8ea4d2"/>
<circle cx="131.6" cy="398" r="2.1" fill="#8ea4d2"/>
<circle cx="138" cy="398.6" r="2.1" fill="#8ea4d2"/>
<circle cx="147" cy="398.4" r="2.1" fill="#8ea4d2"/>
<circle cx="153" cy="397" r="2.1" fill="#8ea4d2"/>
<circle cx="139" cy="408" r="2.1" fill="#8ea4d2"/>
<circle cx="153" cy="408" r="2.1" fill="#8ea4d2"/>
<circle cx="147" cy="412" r="2.1" fill="#8ea4d2"/>
<circle cx="143" cy="414.6" r="2.1" fill="#8ea4d2"/>
<rect x="280" y="261.3" width="174.5" height="47.4" fill="#171917"/>
<line x1="343.6" y1="261.3" x2="343.6" y2="308.7" stroke="#222522" stroke-width="1"/>
<defs><radialGradient id="cocW" cx="0.5" cy="0.4" r="0.65"><stop offset="0" stop-color="#dce6b0"/><stop offset="0.55" stop-color="#c6d685"/><stop offset="1" stop-color="#a3b45c"/></radialGradient><radialGradient id="cocK" cx="0.45" cy="0.4" r="0.65"><stop offset="0" stop-color="#dde5a0"/><stop offset="0.55" stop-color="#c9d77a"/><stop offset="1" stop-color="#a4b452"/></radialGradient><radialGradient id="cocO" cx="0.45" cy="0.35" r="0.7"><stop offset="0" stop-color="#e2eabb"/><stop offset="0.5" stop-color="#cedb90"/><stop offset="1" stop-color="#a8b960"/></radialGradient><radialGradient id="cocO2" cx="0.45" cy="0.4" r="0.7"><stop offset="0" stop-color="#e3ea9e"/><stop offset="0.55" stop-color="#d3df84"/><stop offset="1" stop-color="#aebc52"/></radialGradient></defs>
<path d="M300.6,267.2 C305.6,268.3 305.3,280.1 305.3,287.9 C305.3,296.8 302.1,302.8 297.5,302.8 C292.9,302.8 289.8,293.7 289.8,284.8 C289.8,277.0 295.6,268.3 300.6,267.2 Z" fill="url(#cocW)"/>
<path d="M316.6,267.7 C321.4,268.9 321.3,277.2 321.3,285.8 C321.3,295.6 318.5,307.0 314,307 C309.5,307.0 306.3,295.6 306.3,285.8 C306.3,277.2 311.8,268.9 316.6,267.7 Z" fill="url(#cocW)"/>
<path d="M332.6,269.3 C337.6,270.4 337.3,278.9 337.3,286.8 C337.3,295.8 334.1,305.4 329.5,305.4 C324.9,305.4 321.8,296.9 321.8,287.9 C321.8,280.0 327.6,270.4 332.6,269.3 Z" fill="url(#cocW)"/>
<path d="M352.4,268.8 C356.8,269.8 360.1,276.3 360.1,283.7 C360.1,292.1 357.6,302.3 353.4,302.3 C349.2,302.3 346.2,289.0 346.2,280.6 C346.2,273.2 348.0,269.8 352.4,268.8 Z" fill="url(#cocK)"/>
<path d="M366.3,268.8 C370.6,269.8 374.6,278.3 374.6,285.8 C374.6,294.3 370.8,302.8 366.8,302.8 C362.8,302.8 361.2,289.1 361.2,280.6 C361.2,273.1 362.0,269.8 366.3,268.8 Z" fill="url(#cocK)"/>
<path d="M383.3,267.7 C387.3,268.7 388.0,281.3 388,288.9 C388.0,297.5 386.0,302.3 382.3,302.3 C378.6,302.3 375.6,287.2 375.6,278.6 C375.6,271.0 379.3,268.7 383.3,267.7 Z" fill="url(#cocW)"/>
<path d="M407.6,265.2 C413.6,266.4 416.5,271.4 416.5,280 C416.5,289.8 414.4,304.2 408.7,304.2 C403.0,304.2 397.6,294.4 397.6,284.7 C397.6,276.1 401.6,266.4 407.6,265.2 Z" fill="url(#cocO)"/>
<path d="M423.2,265.2 C428.9,266.4 434.9,282.9 434.9,291.4 C434.9,301.0 435.3,303.7 429.9,303.7 C424.5,303.7 417.0,285.6 417,276 C417.0,267.5 417.5,266.4 423.2,265.2 Z" fill="url(#cocO2)"/>
<path d="M439.9,264.1 C445.9,265.3 452.7,277.1 452.7,285.8 C452.7,295.7 449.9,303.7 444.3,303.7 C438.7,303.7 434.0,285.9 434,276 C434.0,267.3 433.9,265.3 439.9,264.1 Z" fill="url(#cocO)"/>
<line x1="441.2" y1="306.3" x2="452.8" y2="306.3" stroke="#ddd" stroke-width="1"/>
<text x="313" y="255.4" font-size="14.6" text-anchor="middle">WT</text>
<text x="369" y="255.4" font-size="14.6" text-anchor="middle">KO</text>
<text x="423" y="255.4" font-size="14.6" text-anchor="middle">OE</text>
<line x1="276.2" y1="325.5" x2="276.2" y2="430.5" stroke="#000" stroke-width="1.3"/>
<line x1="269" y1="430.5" x2="459" y2="430.5" stroke="#000" stroke-width="1.3"/>
<line x1="269" y1="325.8" x2="276.2" y2="325.8" stroke="#000" stroke-width="1.3"/>
<text x="268.6" y="332.2" font-size="15" text-anchor="end">0.15</text>
<line x1="269" y1="360.55" x2="276.2" y2="360.55" stroke="#000" stroke-width="1.3"/>
<text x="268.6" y="363.7" font-size="15" text-anchor="end">0.10</text>
<line x1="269" y1="395.3" x2="276.2" y2="395.3" stroke="#000" stroke-width="1.3"/>
<text x="268.6" y="392.2" font-size="15" text-anchor="end">0.05</text>
<line x1="269" y1="430.05" x2="276.2" y2="430.05" stroke="#000" stroke-width="1.3"/>
<text x="268.6" y="422.4" font-size="15" text-anchor="end">0.00</text>
<rect x="295" y="353" width="35.9" height="77.5" fill="#b3dccb"/>
<rect x="349" y="370.2" width="36.7" height="60.3" fill="#87a5cc"/>
<rect x="404" y="340.2" width="36" height="90.3" fill="#f6c068"/>
<line x1="313" y1="347.7" x2="313" y2="353" stroke="#000" stroke-width="1.3"/>
<line x1="304.2" y1="347.7" x2="321.8" y2="347.7" stroke="#000" stroke-width="1.3"/>
<line x1="367.4" y1="358.5" x2="367.4" y2="370.2" stroke="#000" stroke-width="1.3"/>
<line x1="358.09999999999997" y1="358.5" x2="376.7" y2="358.5" stroke="#000" stroke-width="1.3"/>
<line x1="422" y1="334.5" x2="422" y2="340.2" stroke="#000" stroke-width="1.3"/>
<line x1="413.2" y1="334.5" x2="430.8" y2="334.5" stroke="#000" stroke-width="1.3"/>
<line x1="312.8" y1="430.5" x2="312.8" y2="437.4" stroke="#000" stroke-width="1.3"/>
<line x1="367.4" y1="430.5" x2="367.4" y2="437.4" stroke="#000" stroke-width="1.3"/>
<line x1="422.3" y1="430.5" x2="422.3" y2="437.4" stroke="#000" stroke-width="1.3"/>
<text x="312.2" y="454.6" font-size="14" text-anchor="middle">WT</text>
<text x="369.4" y="454.6" font-size="14" text-anchor="middle">KO</text>
<text x="423" y="454.6" font-size="14" text-anchor="middle">OE</text>
<text x="309.6" y="468.9" font-size="13.6" text-anchor="middle" textLength="50" lengthAdjust="spacingAndGlyphs">(n = 39)</text>
<text x="366.5" y="468.9" font-size="13.6" text-anchor="middle" textLength="50" lengthAdjust="spacingAndGlyphs">(n = 40)</text>
<text x="424" y="468.9" font-size="13.6" text-anchor="middle" textLength="50" lengthAdjust="spacingAndGlyphs">(n = 39)</text>
<g transform="translate(231,372.5) rotate(-90)"><text x="0" y="0" font-size="17" text-anchor="middle">CSW (g)</text></g>
<line x1="312.8" y1="327.5" x2="423" y2="327.5" stroke="#231815" stroke-width="1.25"/>
<text x="368.5" y="332" font-size="17.5" text-anchor="middle">****</text>
<line x1="312.8" y1="341.5" x2="368" y2="341.5" stroke="#231815" stroke-width="1.25"/>
<text x="338" y="346.5" font-size="17.5" text-anchor="middle">****</text>
<text x="481" y="252.4" font-size="19" text-anchor="start" font-weight="bold">e</text>
<g transform="translate(507,309.5) rotate(-90)"><text x="0" y="0" font-size="17" text-anchor="middle">Fine silk</text></g>
<g transform="translate(507,415) rotate(-90)"><text x="0" y="0" font-size="17" text-anchor="middle">Coarse silk</text></g>
<defs><linearGradient id="mf1" gradientUnits="userSpaceOnUse" x1="530" y1="275" x2="552" y2="255"><stop offset="0" stop-color="#d2d2d2"/><stop offset="0.35" stop-color="#bababa"/><stop offset="0.75" stop-color="#b0b0b0"/><stop offset="1" stop-color="#d0d0d0"/></linearGradient><linearGradient id="sf1" gradientUnits="userSpaceOnUse" x1="545" y1="320" x2="568" y2="325"><stop offset="0" stop-color="#b8b8b8"/><stop offset="0.3" stop-color="#a0a0a0"/><stop offset="1" stop-color="#8e8e8e"/></linearGradient><linearGradient id="mf2" gradientUnits="userSpaceOnUse" x1="560" y1="430" x2="585" y2="395"><stop offset="0" stop-color="#a2a2a2"/><stop offset="0.5" stop-color="#adadad"/><stop offset="0.62" stop-color="#c4c4c4"/><stop offset="0.7" stop-color="#acacac"/><stop offset="1" stop-color="#b4b4b4"/></linearGradient><linearGradient id="bandR" gradientUnits="userSpaceOnUse" x1="0" y1="258" x2="0" y2="300"><stop offset="0" stop-color="#4a4a4a"/><stop offset="0.4" stop-color="#727272"/><stop offset="1" stop-color="#555"/></linearGradient><clipPath id="sem1"><rect x="520" y="255.3" width="136" height="102.3"/></clipPath><clipPath id="sem2"><rect x="520" y="365.2" width="136" height="102"/></clipPath></defs>
<defs><filter id="soft" x="-5%" y="-5%" width="110%" height="110%"><feGaussianBlur stdDeviation="0.6"/></filter></defs>
<g clip-path="url(#sem1)"><g filter="url(#soft)">
<rect x="520" y="255" width="136" height="103" fill="#353535"/>
<path d="M560,255 L656,255 L656,300 C640,282 620,282 600,290 C585,296 575,305 570,310 L560,300 Z" fill="url(#bandR)"/>
<path d="M600,262 C620,258 640,258 656,262 L656,268 C640,264 620,266 600,270 Z" fill="#8a8a8a" opacity="0.6"/>
<path d="M590,275 C615,268 640,270 656,278 L656,283 C640,276 615,276 590,281 Z" fill="#8e8e8e" opacity="0.6"/>
<path d="M600,292 C620,282 645,284 656,300 L656,358 L625,358 L585,318 Z" fill="#2c2c2c"/>
<path d="M615,292 C628,300 640,325 648,358 L640,358 C632,330 622,305 610,296 Z" fill="#4c4c4c"/>
<path d="M632,290 C642,300 652,320 656,335 L656,325 C650,308 645,296 640,290 Z" fill="#555"/>
<path d="M576,318 L596,336 L590,358 L575,358 Z" fill="#6a6a6a"/>
<path d="M520,258 L552,289 L548,292 C535,292 525,300 520,306 Z" fill="#4a4a4a"/>
<path d="M520,284 C530,282 542,285 555,292 L548,300 C538,298 528,300 520,305 Z" fill="#7e7e7e"/>
<path d="M520,272 C528,270 535,272 542,276 L540,279 C532,277 526,277 520,279 Z" fill="#6c6c6c"/>
<path d="M520,305 C535,302 548,300 556,300 L545,358 L520,358 Z" fill="#282828"/>
<path d="M522,310 L532,358 L525,358 L520,340 Z" fill="#444"/>
<path d="M574,255 L598,255 L559,357.6 L538.6,357.6 Z" fill="url(#sf1)"/>
<path d="M520,255.3 L548,255.3 L646.2,357.6 L619,357.6 L562.6,300.5 L520.6,258 Z" fill="url(#mf1)"/>
<path d="M526,258 L532,258 L630,357.6 L624,357.6 Z" fill="#d2d2d2" opacity="0.6"/>
<path d="M544,256 L548,255.3 L646.2,357.6 L641,357.6 Z" fill="#dadada" opacity="0.6"/>
</g></g>
<g clip-path="url(#sem2)"><g filter="url(#soft)">
<rect x="520" y="365" width="136" height="103" fill="#3c3c3c"/>
<path d="M553,365 L625,365 L610,400 L600,412 L590,400 Z" fill="#2e2e2e"/>
<path d="M570,365 L590,365 C596,372 602,380 606,388 L600,395 C590,385 578,372 570,365 Z" fill="#8a8a8a"/>
<path d="M580,366 L588,366 C594,372 598,378 602,385 L598,388 C592,380 586,372 580,366 Z" fill="#d8d8d8"/>
<path d="M585,392 C595,396 605,400 612,405 L606,412 C600,405 592,398 585,395 Z" fill="#505050"/>
<path d="M646,365 L656,365 L656,390 L640,392 Z" fill="#2a2a2a"/>
<path d="M635,392 C645,388 652,388 656,390 L656,428 C648,428 640,432 632,440 L618,425 Z" fill="#9a9a9a"/>
<path d="M640,430 C648,426 654,426 656,428 L656,448 L642,447 Z" fill="#202020"/>
<path d="M520,392 L540,404 L550,467 L520,467 Z" fill="#858585"/>
<path d="M522,400 L527,400 L531,467 L525,467 Z" fill="#c0c0c0" opacity="0.8"/>
<path d="M536,410 L541,410 L546,467 L541,467 Z" fill="#6a6a6a"/>
<path d="M548,440 C556,432 566,426 578,428 L585,440 C575,444 565,450 556,457 Z" fill="#c4c4c4"/>
<path d="M552,452 C562,446 572,442 584,442 L590,452 C578,454 566,458 556,463 Z" fill="#2a2a2a"/>
<path d="M555,462 L595,448 L620,467 L556,467 Z" fill="#7a7a7a"/>
<path d="M625,365.2 L646.7,365.2 L634.4,413.7 L626,430 L600,430 L605,413.7 Z" fill="#acacac"/>
<path d="M628,366 L632,366 L609,413 L606,413 Z" fill="#c8c8c8" opacity="0.7"/>
<path d="M520,365 L553.3,365 L590,400.8 L602.6,414 L637.9,442.2 L656,447 L656,467.5 L620.3,467.5 L590,442.2 L554.4,414 L520.3,389 Z" fill="url(#mf2)"/>
<path d="M533,365.2 L536,365.2 L656,455 L656,458 Z" fill="#cfcfcf" opacity="0.8"/>
</g></g>
<text x="521" y="355.6" font-size="3.6" fill="#d8d8d8" textLength="47" lengthAdjust="spacingAndGlyphs">0.0 WD 3.0mm x 500 SE 20kV</text>
<rect x="599.0" y="351" width="0.8" height="1.6" fill="#e0e0e0"/>
<rect x="605.1" y="351" width="0.8" height="1.6" fill="#e0e0e0"/>
<rect x="611.2" y="351" width="0.8" height="1.6" fill="#e0e0e0"/>
<rect x="617.3" y="351" width="0.8" height="1.6" fill="#e0e0e0"/>
<rect x="623.4" y="351" width="0.8" height="1.6" fill="#e0e0e0"/>
<rect x="629.5" y="351" width="0.8" height="1.6" fill="#e0e0e0"/>
<rect x="635.6" y="351" width="0.8" height="1.6" fill="#e0e0e0"/>
<rect x="641.7" y="351" width="0.8" height="1.6" fill="#e0e0e0"/>
<rect x="647.8" y="351" width="0.8" height="1.6" fill="#e0e0e0"/>
<text x="639" y="355.6" font-size="3.6" fill="#d8d8d8" textLength="15" lengthAdjust="spacingAndGlyphs">100um</text>
<text x="521" y="465.4" font-size="3.6" fill="#d8d8d8" textLength="47" lengthAdjust="spacingAndGlyphs">0.0 WD 3.0mm x 500 SE 20kV</text>
<rect x="599.0" y="461" width="0.8" height="1.6" fill="#e0e0e0"/>
<rect x="605.1" y="461" width="0.8" height="1.6" fill="#e0e0e0"/>
<rect x="611.2" y="461" width="0.8" height="1.6" fill="#e0e0e0"/>
<rect x="617.3" y="461" width="0.8" height="1.6" fill="#e0e0e0"/>
<rect x="623.4" y="461" width="0.8" height="1.6" fill="#e0e0e0"/>
<rect x="629.5" y="461" width="0.8" height="1.6" fill="#e0e0e0"/>
<rect x="635.6" y="461" width="0.8" height="1.6" fill="#e0e0e0"/>
<rect x="641.7" y="461" width="0.8" height="1.6" fill="#e0e0e0"/>
<rect x="647.8" y="461" width="0.8" height="1.6" fill="#e0e0e0"/>
<text x="639" y="465.4" font-size="3.6" fill="#d8d8d8" textLength="15" lengthAdjust="spacingAndGlyphs">100um</text>
<text x="665" y="252.4" font-size="19" text-anchor="start" font-weight="bold">f</text>
<g fill="#c9c9c9">
<polygon points="780,289.8 924.5,289.8 959.6,367.2 811,367.2"/>
<polygon points="1000.3,289.8 1060.6,289.8 1018.5,367.2 959.6,367.2"/>
<polygon points="735,367.2 770,367.2 747.6,440.2 710,440.2"/>
<polygon points="770,367.2 1019.8,367.2 1058.4,440.2 797.6,440.2"/>
</g>
<line x1="729" y1="289.8" x2="1062" y2="289.8" stroke="#231815" stroke-width="2"/>
<line x1="705" y1="367.2" x2="1037.6" y2="367.2" stroke="#231815" stroke-width="2"/>
<line x1="699" y1="440.2" x2="1067" y2="440.2" stroke="#231815" stroke-width="2"/>
<line x1="781.4" y1="277" x2="781.4" y2="302.5" stroke="#1e6cb4" stroke-width="1.4"/>
<line x1="792.6" y1="277" x2="792.6" y2="302.5" stroke="#1e6cb4" stroke-width="2.2"/>
<line x1="863" y1="277" x2="863" y2="302.5" stroke="#1e6cb4" stroke-width="1.4"/>
<line x1="876.3" y1="277" x2="876.3" y2="302.5" stroke="#1e6cb4" stroke-width="1.4"/>
<line x1="885.6" y1="277" x2="885.6" y2="302.5" stroke="#1e6cb4" stroke-width="1.4"/>
<line x1="897.4" y1="277" x2="897.4" y2="302.5" stroke="#1e6cb4" stroke-width="1.4"/>
<line x1="907.7" y1="277" x2="907.7" y2="302.5" stroke="#1e6cb4" stroke-width="1.4"/>
<line x1="914.9" y1="277" x2="914.9" y2="302.5" stroke="#1e6cb4" stroke-width="2.2"/>
<line x1="924.1" y1="277" x2="924.1" y2="302.5" stroke="#1e6cb4" stroke-width="1.4"/>
<line x1="1005" y1="277" x2="1005" y2="302.5" stroke="#1e6cb4" stroke-width="2.2"/>
<line x1="1020.4" y1="277" x2="1020.4" y2="302.5" stroke="#1e6cb4" stroke-width="1.4"/>
<line x1="1028.6" y1="277" x2="1028.6" y2="302.5" stroke="#1e6cb4" stroke-width="1.4"/>
<line x1="1032.6" y1="277" x2="1032.6" y2="302.5" stroke="#1e6cb4" stroke-width="1.4"/>
<line x1="1046.4" y1="277" x2="1046.4" y2="302.5" stroke="#1e6cb4" stroke-width="1.4"/>
<line x1="1057.7" y1="277" x2="1057.7" y2="302.5" stroke="#1e6cb4" stroke-width="1.4"/>
<polygon points="1058,285.5 1062,289.8 1058,294" fill="#1e6cb4"/>
<line x1="812.4" y1="354.2" x2="812.4" y2="379.2" stroke="#1e6cb4" stroke-width="1.4"/>
<line x1="823.6" y1="354.2" x2="823.6" y2="379.2" stroke="#1e6cb4" stroke-width="1.4"/>
<line x1="895.2" y1="354.2" x2="895.2" y2="379.2" stroke="#1e6cb4" stroke-width="1.4"/>
<line x1="908.5" y1="354.2" x2="908.5" y2="379.2" stroke="#1e6cb4" stroke-width="1.4"/>
<line x1="917.5" y1="354.2" x2="917.5" y2="379.2" stroke="#1e6cb4" stroke-width="1.4"/>
<line x1="929.6" y1="354.2" x2="929.6" y2="379.2" stroke="#1e6cb4" stroke-width="1.4"/>
<line x1="939.4" y1="354.2" x2="939.4" y2="379.2" stroke="#1e6cb4" stroke-width="1.4"/>
<line x1="947" y1="354.2" x2="947" y2="379.2" stroke="#1e6cb4" stroke-width="2.2"/>
<line x1="955.6" y1="354.2" x2="955.6" y2="379.2" stroke="#1e6cb4" stroke-width="2.2"/>
<line x1="963.4" y1="354.2" x2="963.4" y2="379.2" stroke="#1e6cb4" stroke-width="1.4"/>
<line x1="978.8" y1="354.2" x2="978.8" y2="379.2" stroke="#1e6cb4" stroke-width="2.2"/>
<line x1="987" y1="354.2" x2="987" y2="379.2" stroke="#1e6cb4" stroke-width="1.4"/>
<line x1="991.3" y1="354.2" x2="991.3" y2="379.2" stroke="#1e6cb4" stroke-width="1.4"/>
<line x1="1005" y1="354.2" x2="1005" y2="379.2" stroke="#1e6cb4" stroke-width="1.4"/>
<line x1="1015.7" y1="354.2" x2="1015.7" y2="379.2" stroke="#1e6cb4" stroke-width="1.4"/>
<polygon points="1016,363 1020,367.2 1016,371.4" fill="#1e6cb4"/>
<line x1="851.3" y1="427.3" x2="851.3" y2="453.4" stroke="#1e6cb4" stroke-width="1.4"/>
<line x1="862.3" y1="427.3" x2="862.3" y2="453.4" stroke="#1e6cb4" stroke-width="1.4"/>
<line x1="933.6" y1="427.3" x2="933.6" y2="453.4" stroke="#1e6cb4" stroke-width="1.4"/>
<line x1="947.4" y1="427.3" x2="947.4" y2="453.4" stroke="#1e6cb4" stroke-width="1.4"/>
<line x1="956.3" y1="427.3" x2="956.3" y2="453.4" stroke="#1e6cb4" stroke-width="1.4"/>
<line x1="968" y1="427.3" x2="968" y2="453.4" stroke="#1e6cb4" stroke-width="1.4"/>
<line x1="978.4" y1="427.3" x2="978.4" y2="453.4" stroke="#1e6cb4" stroke-width="1.4"/>
<line x1="985.6" y1="427.3" x2="985.6" y2="453.4" stroke="#1e6cb4" stroke-width="2.2"/>
<line x1="994.7" y1="427.3" x2="994.7" y2="453.4" stroke="#1e6cb4" stroke-width="1.4"/>
<line x1="1002" y1="427.3" x2="1002" y2="453.4" stroke="#1e6cb4" stroke-width="2.2"/>
<line x1="1017.4" y1="427.3" x2="1017.4" y2="453.4" stroke="#1e6cb4" stroke-width="1.4"/>
<line x1="1026.3" y1="427.3" x2="1026.3" y2="453.4" stroke="#1e6cb4" stroke-width="2.2"/>
<line x1="1030" y1="427.3" x2="1030" y2="453.4" stroke="#1e6cb4" stroke-width="1.4"/>
<line x1="1043.7" y1="427.3" x2="1043.7" y2="453.4" stroke="#1e6cb4" stroke-width="1.4"/>
<line x1="1054.7" y1="427.3" x2="1054.7" y2="453.4" stroke="#1e6cb4" stroke-width="1.4"/>
<polygon points="1055,436 1059,440.2 1055,444.4" fill="#1e6cb4"/>
<text x="825" y="270.7" font-size="15.3" text-anchor="start" font-style="italic" textLength="161" lengthAdjust="spacingAndGlyphs">BmChit β-GlcNAcase</text>
<text x="677" y="304.4" font-size="16.2" text-anchor="start" textLength="72.6" lengthAdjust="spacingAndGlyphs">Chunfeng</text>
<text x="677" y="385.6" font-size="16.2" text-anchor="start">Ref</text>
<text x="676.7" y="457.8" font-size="16.2" text-anchor="start" textLength="41.5" lengthAdjust="spacingAndGlyphs">Suxiu</text>
<text x="937.6" y="307" font-size="16.5" text-anchor="start" textLength="54.6" lengthAdjust="spacingAndGlyphs">11.1 kb</text>
<text x="750.6" y="432.6" font-size="16.5" text-anchor="start" textLength="46.4" lengthAdjust="spacingAndGlyphs">6.2 kb</text>
<text x="1077.6" y="252.4" font-size="19" text-anchor="start" font-weight="bold">g</text>
<line x1="1141.6" y1="269.6" x2="1141.6" y2="447.4" stroke="#231815" stroke-width="1.3"/>
<line x1="1138" y1="447.4" x2="1246" y2="447.4" stroke="#231815" stroke-width="1.3"/>
<line x1="1138" y1="269.6" x2="1141.6" y2="269.6" stroke="#231815" stroke-width="1.3"/>
<text x="1131.8" y="273.1" font-size="15" text-anchor="end">1.8</text>
<line x1="1138" y1="328.70000000000005" x2="1141.6" y2="328.70000000000005" stroke="#231815" stroke-width="1.3"/>
<text x="1131.8" y="333.9" font-size="15" text-anchor="end">1.6</text>
<line x1="1138" y1="387.8" x2="1141.6" y2="387.8" stroke="#231815" stroke-width="1.3"/>
<text x="1131.8" y="393.6" font-size="15" text-anchor="end">1.4</text>
<line x1="1138" y1="446.90000000000003" x2="1141.6" y2="446.90000000000003" stroke="#231815" stroke-width="1.3"/>
<text x="1131.8" y="452.6" font-size="15" text-anchor="end">1.2</text>
<line x1="1171.6" y1="447.4" x2="1171.6" y2="453" stroke="#231815" stroke-width="1.3"/>
<line x1="1215.4" y1="447.4" x2="1215.4" y2="453" stroke="#231815" stroke-width="1.3"/>
<text x="1172" y="466.6" font-size="14.2" text-anchor="middle">WT</text>
<text x="1217" y="466.6" font-size="14.2" text-anchor="middle">KO</text>
<g transform="translate(1106.5,358) rotate(-90)"><text x="0" y="0" font-size="17.2" text-anchor="middle">Fineness (dtex)</text></g>
<line x1="1164" y1="275.5" x2="1219" y2="275.5" stroke="#231815" stroke-width="1.3"/>
<text x="1191.5" y="277.5" font-size="17.5" text-anchor="middle">***</text>
<g stroke="#8ea4d2" stroke-width="1.1" fill="none">
<rect x="1202.4" y="305.4" width="26.199999999999818" height="37.60000000000002"/>
<line x1="1202.4" y1="319.4" x2="1228.6" y2="319.4"/>
<line x1="1215.6" y1="291.4" x2="1215.6" y2="305.4"/><line x1="1215.6" y1="343" x2="1215.6" y2="356.6"/>
<line x1="1209.1999999999998" y1="291.4" x2="1222.0" y2="291.4"/><line x1="1209.1999999999998" y1="356.6" x2="1222.0" y2="356.6"/>
</g>
<circle cx="1215.6" cy="291.4" r="2.5" fill="#8ea4d2"/>
<circle cx="1215.6" cy="302.6" r="2.5" fill="#8ea4d2"/>
<circle cx="1215.6" cy="309" r="2.5" fill="#8ea4d2"/>
<circle cx="1205" cy="319" r="2.5" fill="#8ea4d2"/>
<circle cx="1226.6" cy="316" r="2.5" fill="#8ea4d2"/>
<circle cx="1215.6" cy="321.6" r="2.5" fill="#8ea4d2"/>
<circle cx="1215.6" cy="339.6" r="2.5" fill="#8ea4d2"/>
<circle cx="1215.6" cy="348.4" r="2.5" fill="#8ea4d2"/>
<circle cx="1215.6" cy="357" r="2.5" fill="#8ea4d2"/>
<g stroke="#a9d9bf" stroke-width="1.1" fill="none">
<rect x="1159.4" y="374.4" width="27.0" height="25.600000000000023"/>
<line x1="1159.4" y1="385.4" x2="1186.4" y2="385.4"/>
<line x1="1172.6" y1="353.4" x2="1172.6" y2="374.4"/><line x1="1172.6" y1="400" x2="1172.6" y2="428"/>
<line x1="1166.0" y1="353.4" x2="1179.1999999999998" y2="353.4"/><line x1="1166.0" y1="428" x2="1179.1999999999998" y2="428"/>
</g>
<circle cx="1172.6" cy="353.4" r="2.5" fill="#a9d9bf"/>
<circle cx="1172.6" cy="382" r="2.5" fill="#a9d9bf"/>
<circle cx="1162" cy="386" r="2.5" fill="#a9d9bf"/>
<circle cx="1183.6" cy="386" r="2.5" fill="#a9d9bf"/>
<circle cx="1172.6" cy="391.6" r="2.5" fill="#a9d9bf"/>
<circle cx="1172.6" cy="428" r="2.5" fill="#a9d9bf"/>
</svg>
</body></html>
